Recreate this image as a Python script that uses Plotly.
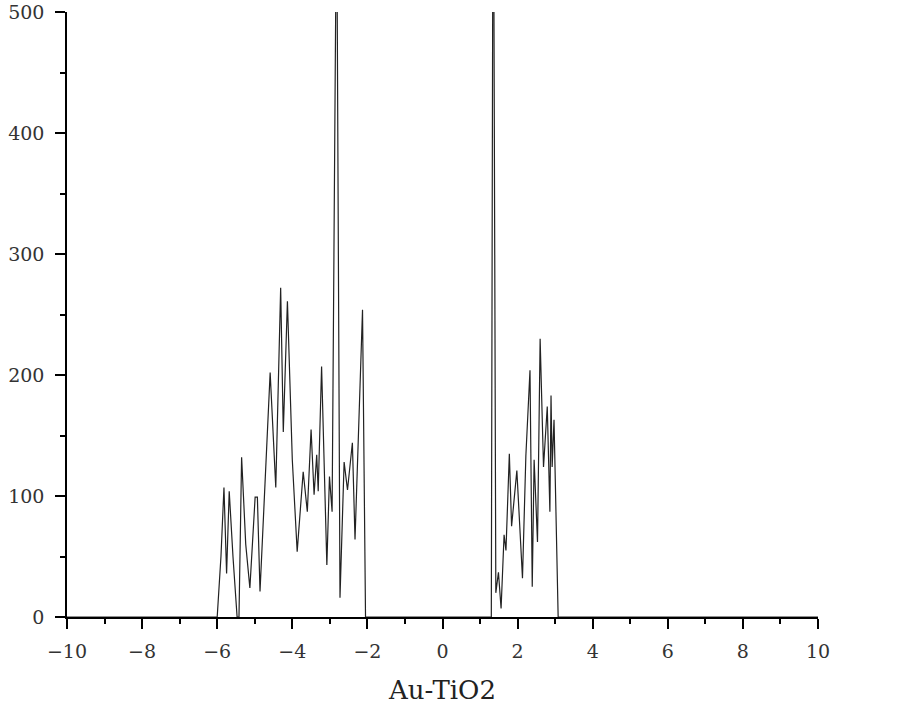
import plotly.graph_objects as go

energy = [-10, -6.0, -5.9, -5.82, -5.75, -5.68, -5.58, -5.47, -5.42, -5.35, -5.24, -5.13, -4.99, -4.93,
          -4.86, -4.72, -4.59, -4.44, -4.31, -4.24, -4.13, -4.0, -3.87, -3.71, -3.60, -3.50, -3.42,
          -3.35, -3.31, -3.22, -3.08, -3.01, -2.94, -2.82, -2.73, -2.62, -2.53, -2.40, -2.33, -2.13,
          -2.05, 1.30, 1.35, 1.42, 1.49, 1.56, 1.64, 1.69, 1.78, 1.84, 1.98, 2.13, 2.22, 2.33, 2.39,
          2.44, 2.53, 2.60, 2.69, 2.79, 2.86, 2.89, 2.92, 2.97, 3.08, 10]
dos = [0, 0, 50, 107, 36, 104, 50, 0, 0, 132, 60, 24, 99, 99,
       21, 110, 202, 107, 272, 153, 261, 130, 54, 120, 87, 155, 101,
       134, 104, 207, 43, 116, 87, 610, 16, 128, 105, 144, 64, 254,
       0, 0, 700, 20, 37, 7, 68, 55, 135, 75, 121, 32, 133, 204, 25,
       130, 62, 230, 124, 174, 87, 183, 124, 163, 0, 0]

x_ticks = [-10, -8, -6, -4, -2, 0, 2, 4, 6, 8, 10]
y_ticks = [0, 100, 200, 300, 400, 500]
x_title = "Au-TiO2"

fig = go.Figure()
fig.add_trace(go.Scatter(x=energy, y=dos, mode="lines",
                         line=dict(color="#222222", width=1.2), showlegend=False))

font_family = "DejaVu Serif"
fig.update_layout(
    width=900, height=722,
    margin=dict(l=67, r=82, t=12, b=105, autoexpand=False),
    plot_bgcolor="white", paper_bgcolor="white",
    font=dict(family=font_family, color="#222222", size=19),
)
fig.update_xaxes(
    range=[-10, 10], tickvals=x_ticks, showgrid=False, zeroline=False,
    showline=True, linecolor="black", linewidth=1.5, automargin=False,
    ticks="outside", ticklen=10, tickwidth=1.5, tickcolor="black",
    minor=dict(dtick=1, ticks="outside", ticklen=5, tickwidth=1.5, tickcolor="black"),
    tickfont=dict(size=19, family=font_family, color="#333333"),
    ticklabelstandoff=6,
    title=dict(text=x_title, font=dict(size=26, family=font_family, color="#222222"), standoff=20),
)
fig.update_yaxes(
    range=[0, 500], tickvals=y_ticks, showgrid=False, zeroline=False,
    showline=True, linecolor="black", linewidth=1.5, automargin=False,
    ticks="outside", ticklen=10, tickwidth=1.5, tickcolor="black",
    minor=dict(dtick=50, ticks="outside", ticklen=5, tickwidth=1.5, tickcolor="black"),
    tickfont=dict(size=19, family=font_family, color="#333333"),
    ticklabelstandoff=7,
)

fig.write_html("out.html", config={"displayModeBar": False},
               post_script="document.body.style.margin='0px';")
